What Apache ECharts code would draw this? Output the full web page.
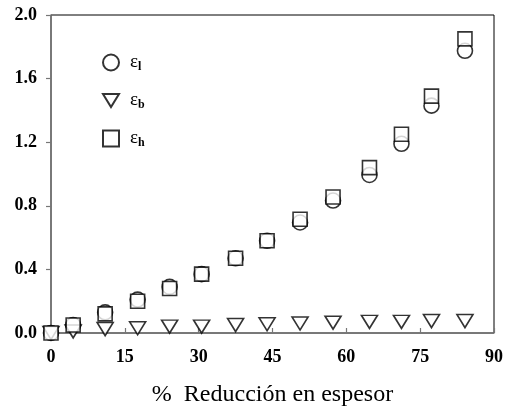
<!DOCTYPE html>
<html>
<head>
<meta charset="utf-8">
<script src="https://cdn.jsdelivr.net/npm/echarts@6/dist/echarts.min.js"></script>
<style>
  html, body { margin: 0; padding: 0; background: #fff; }
  #chart { width: 506px; height: 413px; }
</style>
</head>
<body>
<div id="chart"></div>
<script>
// Thickness reduction (%) and strain components
const reduction = [0, 4.5, 11, 17.6, 24.1, 30.6, 37.5, 43.9, 50.6, 57.3, 64.7, 71.2, 77.3, 84.1];
const epsL = [0, 0.05, 0.13, 0.21, 0.29, 0.37, 0.47, 0.58, 0.695, 0.833, 0.994, 1.19, 1.43, 1.775];
const epsB = [0, 0.01, 0.025, 0.03, 0.04, 0.04, 0.05, 0.055, 0.06, 0.065, 0.07, 0.07, 0.075, 0.075];
const epsH = [0, 0.05, 0.12, 0.20, 0.28, 0.37, 0.47, 0.58, 0.715, 0.855, 1.04, 1.25, 1.49, 1.85];
const xTicks = [0, 15, 30, 45, 60, 75, 90];
const yTicks = [0.0, 0.4, 0.8, 1.2, 1.6, 2.0];
const seriesNames = ['εl', 'εb', 'εh'];
const subscripts = { 'εl': 'l', 'εb': 'b', 'εh': 'h' };

const serif = '"Liberation Serif", "Times New Roman", serif';
const pairs = ys => reduction.map((x, i) => [x, ys[i]]);
// downward-pointing triangle
const triDown = 'path://M0,0L16,0L8,13Z';

const chart = echarts.init(document.getElementById('chart'));
const markerStyle = { color: '#fff', borderColor: '#000', borderWidth: 1.6 };

chart.setOption({
  animation: false,
  backgroundColor: '#fff',
  grid: { left: 51, right: 11, top: 15, bottom: 80, show: true, borderColor: '#000', borderWidth: 1 },
  legend: {
    orient: 'vertical',
    left: 97,
    top: 47,
    itemWidth: 16,
    itemHeight: 16,
    itemGap: 17,
    data: seriesNames,
    formatter: n => '{e|ε}{s|' + subscripts[n] + '}',
    textStyle: {
      fontFamily: serif,
      rich: {
        e: { fontFamily: serif, fontSize: 19, lineHeight: 20, color: '#000', padding: [0, 0, 0, 6] },
        s: { fontFamily: serif, fontSize: 12, fontWeight: 'bold', lineHeight: 20, color: '#000', padding: [9, 0, 0, 0] }
      }
    }
  },
  xAxis: {
    type: 'value',
    min: 0, max: 90, interval: 15,
    name: '%  Reducción en espesor',
    nameLocation: 'middle',
    nameGap: 50,
    nameTextStyle: { fontFamily: serif, fontSize: 24, color: '#000' },
    axisLine: { lineStyle: { color: '#777', width: 1.5 } },
    axisTick: { inside: true, length: 5, lineStyle: { color: '#777', width: 1.2 } },
    splitLine: { show: false },
    axisLabel: {
      margin: 15,
      fontFamily: serif, fontSize: 18, fontWeight: 'bold', color: '#000',
      formatter: v => xTicks.includes(v) ? String(v) : ''
    }
  },
  yAxis: {
    type: 'value',
    min: 0, max: 2, interval: 0.4,
    axisLine: { show: true, lineStyle: { color: '#777', width: 1.5 } },
    axisTick: { show: true, inside: false, length: 5, lineStyle: { color: '#777', width: 1.2 } },
    splitLine: { show: false },
    axisLabel: {
      margin: 14,
      fontFamily: serif, fontSize: 18, fontWeight: 'bold', color: '#000',
      formatter: v => {
        const t = yTicks.find(k => Math.abs(k - v) < 1e-6);
        return t === undefined ? '' : t.toFixed(1);
      }
    }
  },
  series: [
    { name: 'εl', type: 'scatter', data: pairs(epsL), symbol: 'circle', symbolSize: 15, itemStyle: markerStyle, z: 2 },
    { name: 'εb', type: 'scatter', data: pairs(epsB), symbol: triDown, symbolSize: [16, 13], itemStyle: markerStyle, z: 2 },
    { name: 'εh', type: 'scatter', data: pairs(epsH), symbol: 'rect', symbolSize: 14, itemStyle: markerStyle, z: 3 }
  ]
});
</script>
</body>
</html>
